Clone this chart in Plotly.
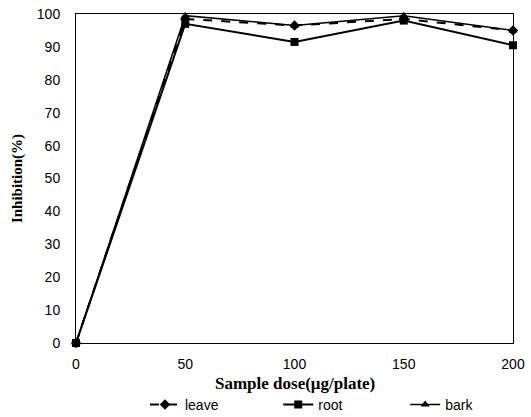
import plotly.graph_objects as go

doses = [0, 50, 100, 150, 200]
leave = [0, 98.5, 96.5, 98.5, 95]
root = [0, 97, 91.5, 98, 90.5]
bark = [0, 99.5, 96.5, 99.5, 95]
y_ticks = list(range(0, 101, 10))
x_title = "Sample dose(μg/plate)"
y_title = "Inhibition(%)"

fig = go.Figure()
fig.add_trace(go.Scatter(x=doses, y=leave, name="leave", mode="lines+markers",
                         line=dict(color="black", width=2, dash="dash"),
                         marker=dict(symbol="diamond", size=8, color="black"),
                         legend="legend"))
fig.add_trace(go.Scatter(x=doses, y=root, name="root", mode="lines+markers",
                         line=dict(color="black", width=2),
                         marker=dict(symbol="square", size=8, color="black"),
                         legend="legend2"))
fig.add_trace(go.Scatter(x=doses, y=bark, name="bark", mode="lines+markers",
                         line=dict(color="black", width=1.5),
                         marker=dict(symbol="triangle-up", size=8, color="black"),
                         legend="legend3"))

def leg(xpos):
    return dict(orientation="h", xref="container", yref="container",
                x=xpos, xanchor="left", y=0.029, yanchor="middle",
                font=dict(size=14), itemwidth=30, bgcolor="rgba(0,0,0,0)")

fig.update_layout(
    width=531, height=417,
    margin=dict(l=76, r=18, t=14, b=74, autoexpand=False),
    plot_bgcolor="white", paper_bgcolor="white",
    font=dict(family="Liberation Sans", size=14, color="black"),
    showlegend=True,
    legend=leg(0.273), legend2=leg(0.524), legend3=leg(0.763),
    xaxis=dict(range=[0, 200], tickvals=doses, showgrid=False, zeroline=False,
               showline=True, linecolor="black", linewidth=1, mirror=True,
               ticks="", ticklabelstandoff=8),
    yaxis=dict(range=[0, 100], tickvals=y_ticks, showgrid=False, zeroline=False,
               showline=True, linecolor="black", linewidth=1, mirror=True,
               ticks="", ticklabelstandoff=12,
               title=dict(text="<b>" + y_title + "</b>", standoff=10,
                          font=dict(family="Liberation Serif", size=15))),
)
fig.add_annotation(text="<b>" + x_title + "</b>", xref="paper", yref="paper",
                   x=0.5, y=-0.1246, xanchor="center", yanchor="middle",
                   showarrow=False,
                   font=dict(family="Liberation Serif", size=17, color="black"))
for tr in fig.data:
    tr.cliponaxis = False

fig.write_html("out.html", config={"displayModeBar": False},
               post_script="document.body.style.margin='0';")
